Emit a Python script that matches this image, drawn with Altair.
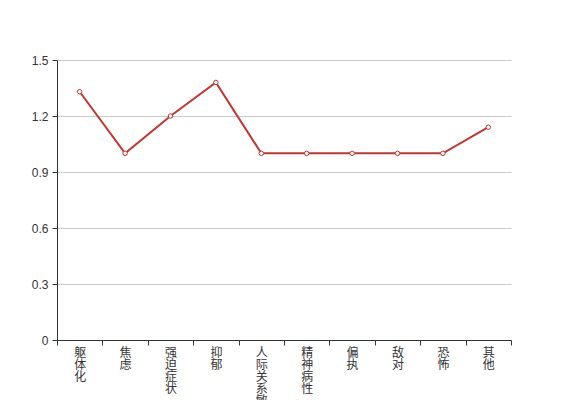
import altair as alt
import pandas as pd

categories = ["躯体化", "焦虑", "强迫症状", "抑郁", "人际关系敏感", "精神病性", "偏执", "敌对", "恐怖", "其他"]
values = [1.33, 1.0, 1.2, 1.38, 1.0, 1.0, 1.0, 1.0, 1.0, 1.14]

df = pd.DataFrame({"cat": categories, "val": values})

W, H = 454, 280
cjk = "Noto Sans CJK SC"
latin = "Liberation Sans"

x = alt.X("cat:N", sort=categories, title=None,
          scale=alt.Scale(paddingInner=0, paddingOuter=0),
          axis=alt.Axis(labelAngle=0, tickBand="extent",
                        labelExpr="split(datum.label, '')", labelLineHeight=12,
                        labelFont=cjk, labelFontSize=12, labelColor="#333",
                        labelBaseline="top", labelPadding=2,
                        tickColor="#333", domainColor="#333", tickSize=5,
                        grid=False, labelAlign="center", labelOverlap=False))
y = alt.Y("val:Q", title=None,
          scale=alt.Scale(domain=[0, 1.5], nice=False),
          axis=alt.Axis(values=[0, 0.3, 0.6, 0.9, 1.2, 1.5],
                        labelExpr="datum.value == 0 ? '0' : format(datum.value, '.1f')",
                        labelFont=latin, labelFontSize=12, labelColor="#333",
                        tickColor="#333", domainColor="#333", tickSize=5,
                        gridColor="#ccc", labelPadding=4))

base = alt.Chart(df).encode(x=x, y=y)
line = base.mark_line(color="#c23531", strokeWidth=2)
pts = base.mark_point(shape="circle", filled=True, fill="white", stroke="#c23531",
                      strokeWidth=1, size=20, opacity=1)

chart = alt.layer(line, pts).properties(
    width=W, height=H,
    autosize=alt.AutoSizeParams(type="none"),
    padding={"left": 49, "top": 52, "right": 40, "bottom": 70},
).configure_view(stroke=None)

chart.save("out.html", embed_options={"renderer": "svg", "actions": False})
